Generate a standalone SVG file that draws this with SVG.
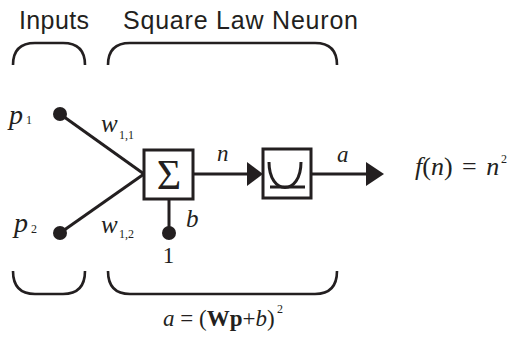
<svg xmlns="http://www.w3.org/2000/svg" width="508" height="341" viewBox="0 0 508 341">
<style>
.ln{stroke:#231f20;stroke-width:3;fill:none}
.br{stroke:#231f20;stroke-width:2.6;fill:none}
.bx{stroke:#231f20;stroke-width:3;fill:#fff}
.dot{fill:#231f20}
.ah{fill:#231f20}
.sans{font-family:"Liberation Sans",Arial,sans-serif;fill:#231f20}
.ser{font-family:"Liberation Serif","Times New Roman",serif;fill:#231f20}
.it{font-style:italic}
</style>
<rect width="508" height="341" fill="#fff"/>
<g id="labels">
<text class="sans" x="19" y="29" font-size="25" textLength="70">Inputs</text>
<text class="sans" x="123" y="29" font-size="25" textLength="235">Square Law Neuron</text>
</g>
<g id="braces">
<path class="br" d="M13,65 Q13,43 35,43 L63,43 Q85,43 85,65"/>
<path class="br" d="M108,65 Q108,43 130,43 L315,43 Q337,43 337,65"/>
<path class="br" d="M13,271 Q13,294 35,294 L63,294 Q85,294 85,271"/>
<path class="br" d="M108,271 Q108,294 130,294 L315,294 Q337,294 337,271"/>
</g>
<g id="connectors">
<line class="ln" x1="60" y1="114" x2="144" y2="174"/>
<line class="ln" x1="60" y1="233" x2="144" y2="174"/>
<line class="ln" x1="169" y1="199" x2="169" y2="233"/>
<line class="ln" x1="193" y1="174" x2="248" y2="174"/>
<polygon class="ah" points="247,162 263,174 247,186"/>
<line class="ln" x1="311" y1="174" x2="367" y2="174"/>
<polygon class="ah" points="366,162 384,174 366,186"/>
</g>
<g id="p1">
<circle class="dot" cx="60" cy="114" r="7"/>
<text class="ser it" x="9" y="124" font-size="28">p</text>
<text class="ser" x="26" y="124" font-size="12">1</text>
</g>
<g id="p2">
<circle class="dot" cx="60" cy="233" r="7"/>
<text class="ser it" x="14" y="232" font-size="28">p</text>
<text class="ser" x="31" y="233" font-size="12">2</text>
</g>
<g id="w11">
<text class="ser it" x="101" y="132" font-size="25">w</text>
<text class="ser" x="119" y="139" font-size="12">1,1</text>
</g>
<g id="w12">
<text class="ser it" x="101" y="233" font-size="25">w</text>
<text class="ser" x="119" y="238" font-size="12">1,2</text>
</g>
<g id="sum">
<rect class="bx" x="144" y="150" width="49" height="49"/>
<text class="ser" x="169" y="189" font-size="42" text-anchor="middle">Σ</text>
</g>
<g id="bias">
<circle class="dot" cx="169" cy="233" r="7"/>
<text class="ser it" x="186" y="227" font-size="25">b</text>
<text class="ser" x="168.5" y="263" font-size="23" text-anchor="middle">1</text>
</g>
<g id="n-label">
<text class="ser it" x="217" y="161" font-size="23">n</text>
</g>
<g id="transfer">
<rect class="bx" x="263" y="149" width="48" height="49"/>
<path class="ln" stroke-width="2.5" d="M269,162 C269,196 301,196 301,162"/>
<line class="ln" stroke-width="2" x1="270" y1="187" x2="305" y2="187"/>
</g>
<g id="a-label">
<text class="ser it" x="337" y="162" font-size="23">a</text>
</g>
<g id="fn">
<text class="ser" x="415" y="175" font-size="26" word-spacing="3"><tspan class="it">f</tspan>(<tspan class="it">n</tspan>) = <tspan class="it">n</tspan></text>
<text class="ser" x="501" y="163" font-size="12">2</text>
</g>
<g id="formula">
<text class="ser" x="163" y="326" font-size="23"><tspan class="it">a</tspan> = (<tspan font-weight="bold">Wp</tspan>+<tspan class="it">b</tspan>)</text>
<text class="ser" x="277" y="313" font-size="12">2</text>
</g>
</svg>
